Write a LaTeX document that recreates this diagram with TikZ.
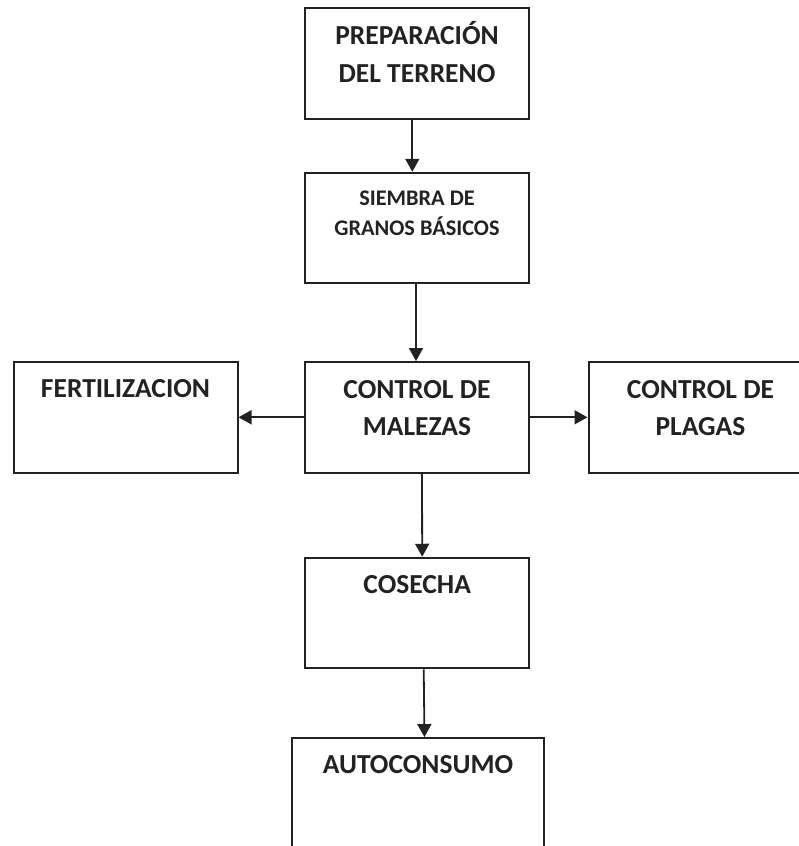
\documentclass[tikz,border=0pt]{standalone}
\usepackage{fontspec}
\setmainfont{Carlito}
\usetikzlibrary{arrows.meta}
\definecolor{ink}{HTML}{222222}
\begin{document}
\begin{tikzpicture}[x=1pt,y=-1pt,
  caja/.style={draw=ink,line width=2pt,minimum width=224pt,minimum height=110.5pt,inner sep=0pt},
  rotulo/.style={text=ink,font=\fontsize{27.5}{37.5}\selectfont\bfseries,align=center,inner sep=0pt,anchor=base},
  chico/.style={rotulo,font=\fontsize{22.3}{30}\selectfont\bfseries},
  flecha/.style={draw=ink,line width=1.8pt,-{Triangle[length=13pt,width=14pt]}}]
\useasboundingbox (0,0) rectangle (799,846);
\clip (0,0) rectangle (799,846);
% cajas
\node[caja] (prep) at (417,63.7) {};
\node[caja] (siembra) at (417,228) {};
\node[caja] (malezas) at (417,417.3) {};
\node[caja] (fert) at (125.5,417.3) {};
\node[caja] (plagas) at (700.5,417.3) {};
\node[caja] (cosecha) at (417.2,613) {};
\node[caja,minimum width=252pt] (auto) at (418,793.3) {};
% textos (base = ultima linea)
\node[rotulo] (prepT) at ([yshift=-74.6pt]prep.north) {PREPARACIÓN\\DEL TERRENO};
\node[chico] (siembraT) at ([yshift=-63.3pt]siembra.north) {SIEMBRA DE\\GRANOS BÁSICOS};
\node[rotulo] (malezasT) at ([yshift=-74.7pt]malezas.north) {CONTROL DE\\MALEZAS};
\node[rotulo] (fertT) at ([yshift=-36.5pt]fert.north) {FERTILIZACION};
\node[rotulo] (plagasT) at ([yshift=-74.7pt]plagas.north) {CONTROL DE\\PLAGAS};
\node[rotulo] (cosechaT) at ([yshift=-36.7pt]cosecha.north) {COSECHA};
\node[rotulo] (autoT) at ([yshift=-36pt]auto.north) {AUTOCONSUMO};
% flechas
\draw[flecha] ([xshift=-4.7pt]prep.south) -- ([xshift=-4.7pt]siembra.north);
\draw[flecha] ([xshift=-1pt]siembra.south) -- ([xshift=-1pt]malezas.north);
\draw[flecha] (malezas.west) -- (fert.east);
\draw[flecha] (malezas.east) -- (plagas.west);
\draw[flecha] ([xshift=5pt]malezas.south) -- ([xshift=5pt]cosecha.north);
\draw[flecha] ([xshift=6.5pt]cosecha.south) -- ([xshift=6.5pt]auto.north);
\end{tikzpicture}
\end{document}
